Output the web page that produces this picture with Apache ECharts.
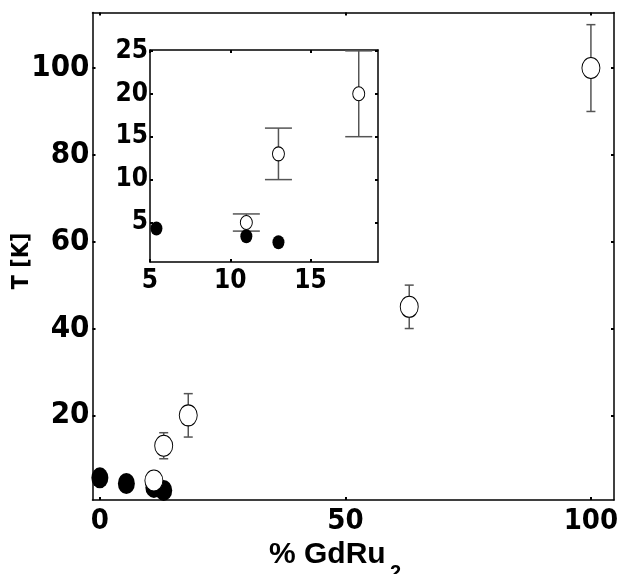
<!DOCTYPE html>
<html>
<head>
<meta charset="utf-8">
<script src="https://cdn.jsdelivr.net/npm/echarts@6/dist/echarts.min.js"></script>
<style>
html,body{margin:0;padding:0;background:#fff;}
#chart{width:618px;height:574px;}
</style>
</head>
<body>
<div id="chart"></div>
<script>
// open circles (with error bars) and filled circles, % GdRu2 vs T [K]
var openX = [11, 13, 18, 63, 100];
var openY = [5, 13, 20, 45, 100];
var openErr = [1, 3, 5, 5, 10];
var filledX = [0, 5.4, 11, 13];
var filledY = [5.6, 4.3, 3.4, 2.7];

var mainXTicks = [0, 50, 100];
var mainYTicks = [20, 40, 60, 80, 100];
var insetXTicks = [5, 10, 15];
var insetYTicks = [5, 10, 15, 20, 25];

var NUM_FONT = "'Liberation Sans Narrow', 'DejaVu Sans Condensed', sans-serif";
var ELLIPSE = 'path://M0,-1A1,1,0,1,1,0,1A1,1,0,1,1,0,-1Z';

var myChart = echarts.init(document.getElementById('chart'));

function pairs(xs, ys) {
    return xs.map(function (x, i) { return [x, ys[i]]; });
}
function errData(maxX) {
    var out = [];
    openX.forEach(function (x, i) {
        if (x <= maxX) out.push([x, openY[i] - openErr[i], openY[i] + openErr[i]]);
    });
    return out;
}
function errRender(capHalf) {
    return function (params, api) {
        var lo = api.coord([api.value(0), api.value(1)]);
        var hi = api.coord([api.value(0), api.value(2)]);
        var st = {stroke: '#555', lineWidth: 1.5};
        return {
            type: 'group',
            children: [
                {type: 'line', shape: {x1: lo[0], y1: lo[1], x2: hi[0], y2: hi[1]}, style: st},
                {type: 'line', shape: {x1: lo[0] - capHalf, y1: lo[1], x2: lo[0] + capHalf, y2: lo[1]}, style: st},
                {type: 'line', shape: {x1: hi[0] - capHalf, y1: hi[1], x2: hi[0] + capHalf, y2: hi[1]}, style: st}
            ]
        };
    };
}
function axis(pos, gridIndex, min, max, ticks, showLabel, fontSize, margin) {
    return {
        type: 'value',
        gridIndex: gridIndex,
        position: pos,
        min: min,
        max: max,
        splitLine: {show: false},
        axisLine: {show: true, onZero: false, lineStyle: {color: '#000', width: 1.5}},
        axisTick: {show: true, inside: true, length: 3, customValues: ticks, lineStyle: {color: '#000', width: 2}},
        axisLabel: {
            show: showLabel, customValues: ticks, fontFamily: NUM_FONT, fontWeight: 'bold',
            fontSize: fontSize, color: '#000', margin: margin
        }
    };
}

var option = {
    animation: false,
    backgroundColor: '#fff',
    grid: [
        {left: 92.5, top: 12.5, width: 521.5, height: 487.5, outerBoundsMode: 'none', containLabel: false},
        {left: 150, top: 50, width: 228, height: 212, outerBoundsMode: 'none', containLabel: false}
    ],
    xAxis: [
        axis('bottom', 0, -1.5, 104.7, mainXTicks, true, 29, 7),
        axis('top', 0, -1.5, 104.7, mainXTicks, false, 29, 7),
        axis('bottom', 1, 5, 19.2, insetXTicks, true, 26, 6),
        axis('top', 1, 5, 19.2, insetXTicks, false, 26, 6)
    ],
    yAxis: [
        axis('left', 0, 0.5, 112.8, mainYTicks, true, 31, 3),
        axis('right', 0, 0.5, 112.8, mainYTicks, false, 31, 3),
        axis('left', 1, 0.4, 25.1, insetYTicks, true, 26, 2),
        axis('right', 1, 0.4, 25.1, insetYTicks, false, 26, 2)
    ],
    graphic: [
        {type: 'text', x: 269, y: 555, style: {text: '% GdRu', fontFamily: 'Liberation Sans, sans-serif',
            fontWeight: 'bold', fontSize: 30, fill: '#000', verticalAlign: 'middle'}},
        {type: 'text', x: 390, y: 573, style: {text: '2', fontFamily: 'Liberation Sans, sans-serif',
            fontWeight: 'bold', fontSize: 20, fill: '#000', verticalAlign: 'middle'}},
        {type: 'text', x: 22, y: 261, rotation: Math.PI / 2, style: {text: 'T [K]', fontFamily: NUM_FONT,
            fontWeight: 'bold', fontSize: 23, fill: '#000', align: 'center', verticalAlign: 'middle'}}
    ],
    series: [
        {type: 'scatter', xAxisIndex: 0, yAxisIndex: 0, symbol: ELLIPSE, symbolSize: [17, 21],
            itemStyle: {color: '#000', opacity: 1}, data: pairs(filledX, filledY)},
        {type: 'custom', xAxisIndex: 0, yAxisIndex: 0, renderItem: errRender(4.5), data: errData(104.7), z: 2},
        {type: 'scatter', xAxisIndex: 0, yAxisIndex: 0, symbol: ELLIPSE, symbolSize: [18, 21], z: 3,
            itemStyle: {color: '#fff', borderColor: '#000', borderWidth: 1, opacity: 1}, data: pairs(openX, openY)},
        {type: 'scatter', xAxisIndex: 2, yAxisIndex: 2, symbol: ELLIPSE, symbolSize: [12, 14],
            itemStyle: {color: '#000', opacity: 1}, data: pairs(filledX, filledY)},
        {type: 'custom', xAxisIndex: 2, yAxisIndex: 2, renderItem: errRender(13.5), data: errData(19.2), z: 2},
        {type: 'scatter', xAxisIndex: 2, yAxisIndex: 2, symbol: ELLIPSE, symbolSize: [12, 14], z: 3,
            itemStyle: {color: '#fff', borderColor: '#000', borderWidth: 1, opacity: 1}, data: pairs(openX, openY)}
    ]
};

if (option && typeof option === "object") {
    myChart.setOption(option, true);
}
</script>
</body>
</html>
